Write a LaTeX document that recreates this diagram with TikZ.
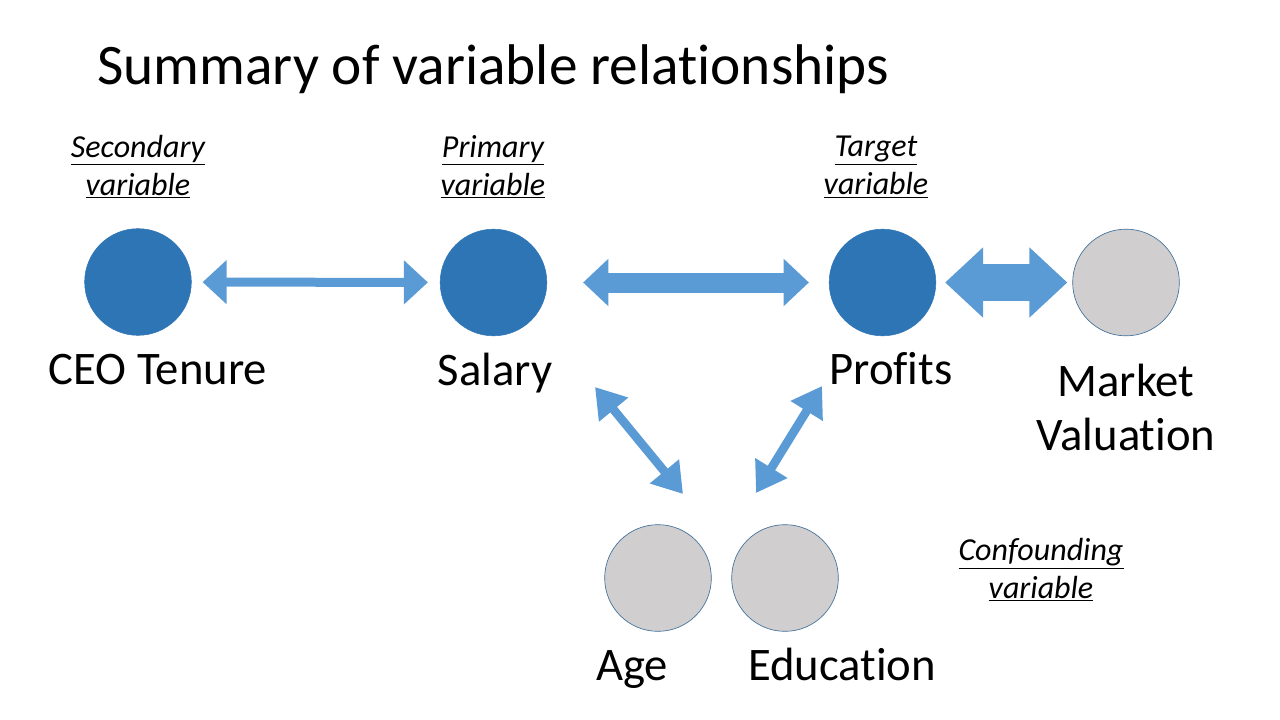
\documentclass[tikz,border=0pt]{standalone}
\usepackage{fontspec}
\setmainfont{Carlito}[Ligatures={NoCommon,NoContextual}]
\usetikzlibrary{arrows.meta}
\definecolor{dblue}{HTML}{2E75B6}
\definecolor{lblue}{HTML}{5B9BD5}
\definecolor{edgeblue}{HTML}{41719C}
\definecolor{lgrey}{HTML}{D0CECE}
\begin{document}
\begin{tikzpicture}[x=0.75pt,y=-0.75pt,
  bluedot/.style={circle,minimum size=80pt,inner sep=0pt,fill=dblue,draw=dblue,line width=0.4pt},
  greydot/.style={circle,minimum size=80pt,inner sep=0pt,fill=lgrey,draw=edgeblue,line width=0.5pt},
  vlabel/.style={font=\fontsize{35}{40.5}\selectfont,align=center,inner sep=0pt,anchor=base},
  tlabel/.style={font=\fontsize{24}{28.5}\selectfont\itshape,align=center,inner sep=0pt},
  arrowA/.style={draw=lblue,line width=6.75pt,{Triangle[width=32pt,length=18pt]}-{Triangle[width=32pt,length=18pt]}},
  arrowB/.style={draw=lblue,line width=15pt,{Triangle[width=34.5pt,length=19pt]}-{Triangle[width=34.5pt,length=19pt]}},
  arrowC/.style={draw=lblue,line width=27.75pt,{Triangle[width=51pt,length=28.5pt]}-{Triangle[width=51pt,length=28.5pt]}},
  arrowD/.style={draw=lblue,line width=6.5pt,{Triangle[width=27pt,length=22pt]}-{Triangle[width=27pt,length=22pt]}}
]
\useasboundingbox (0,0) rectangle (1280,720);

\node[anchor=base west,inner sep=0pt,font=\fontsize{43}{52}\selectfont] (title) at (97,85) {Summary of variable relat\kern0pt ionships};

% circles
\node[bluedot] (ceo) at (138,282) {};
\node[bluedot] (sal) at (493.5,282.5) {};
\node[bluedot] (pro) at (882.5,282.5) {};
\node[greydot] (mkt) at (1126,282.5) {};
\node[greydot] (age) at (658,578) {};
\node[greydot] (edu) at (785,578) {};

% type labels
\node[tlabel] (tsec) at (138,167) {\underline{Secondary}\\\underline{variable}};
\node[tlabel] (tpri) at (493,167) {\underline{Primary}\\\underline{variable}};
\node[tlabel] (ttar) at (876,167) {\underline{Target}\\\underline{variable}};
\node[tlabel] (tcon) at (1041,570) {\underline{Confounding}\\\underline{variable}};

% variable labels
\node[vlabel] (lceo) at (158,384) {CEO Tenure};
\node[vlabel] (lsal) at (495,385) {Salary};
\node[vlabel] (lpro) at (891,384) {Prof\kern0pt its};
\node[vlabel] (lmkt) at (1126,450) {Market\\Valuat\kern0pt ion};
\node[vlabel] (lage) at (632,680) {Age};
\node[vlabel] (ledu) at (842,680) {Educat\kern0pt ion};

% connectors
\draw[arrowA,shorten <=8.25pt,shorten >=9pt] (ceo) -- (sal);
\draw[arrowB,shorten <=27pt,shorten >=15pt] (sal) -- (pro);
\draw[arrowC,shorten <=6.75pt,shorten >=3.75pt] (pro) -- (mkt);

\coordinate (a4s) at (595,387);
\coordinate (a4e) at (683,494);
\coordinate (a5s) at (822,386);
\coordinate (a5e) at (756,493);
\draw[arrowD] (a4s) -- (a4e);
\draw[arrowD] (a5s) -- (a5e);
\end{tikzpicture}
\end{document}
